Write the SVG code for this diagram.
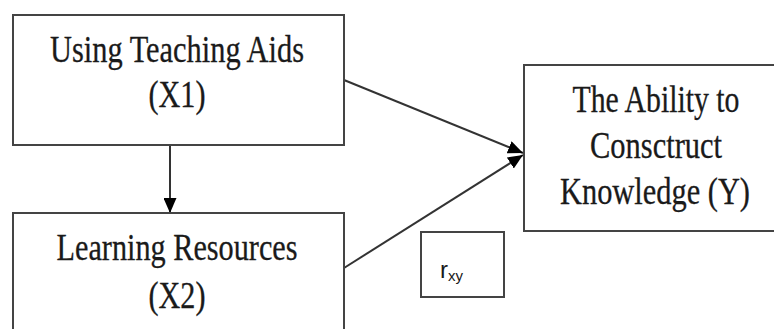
<svg xmlns="http://www.w3.org/2000/svg" width="774" height="329" viewBox="0 0 774 329">
<style>
.box{fill:#fff;stroke:#444;stroke-width:2}
.t{font-family:"Liberation Serif","Times New Roman",serif;font-size:37px;fill:#1a1a1a;stroke:#1a1a1a;stroke-width:0.3;text-anchor:middle}
.c{stroke:#333;stroke-width:2;fill:none}
.s{font-family:"Liberation Sans",Arial,sans-serif;fill:#1a1a1a}
</style>
<defs>
<marker id="ah" markerWidth="15" markerHeight="13" refX="15" refY="6.5" orient="auto" markerUnits="userSpaceOnUse">
<path d="M0,0 L15,6.5 L0,13 Z" fill="#000"/>
</marker>
</defs>
<rect width="774" height="329" fill="#fff"/>
<g id="connectors">
<line class="c" x1="170" y1="145" x2="170" y2="213" marker-end="url(#ah)"/>
<line class="c" x1="344" y1="80" x2="523" y2="153" marker-end="url(#ah)"/>
<line class="c" x1="344" y1="268" x2="523" y2="155" marker-end="url(#ah)"/>
</g>
<g id="x1">
<rect class="box" x="13" y="15" width="331" height="130"/>
<text class="t" x="177" y="62" textLength="254" lengthAdjust="spacingAndGlyphs">Using Teaching Aids</text>
<text class="t" x="177" y="107" textLength="57" lengthAdjust="spacingAndGlyphs">(X1)</text>
</g>
<g id="x2">
<rect class="box" x="13" y="213" width="331" height="130"/>
<text class="t" x="177" y="260" textLength="241" lengthAdjust="spacingAndGlyphs">Learning Resources</text>
<text class="t" x="177" y="308" textLength="57" lengthAdjust="spacingAndGlyphs">(X2)</text>
</g>
<g id="y">
<rect class="box" x="524" y="65" width="260" height="166"/>
<text class="t" x="656" y="112" textLength="167" lengthAdjust="spacingAndGlyphs">The Ability to</text>
<text class="t" x="656" y="158" textLength="132" lengthAdjust="spacingAndGlyphs">Consctruct</text>
<text class="t" x="655" y="204" textLength="190" lengthAdjust="spacingAndGlyphs">Knowledge (Y)</text>
</g>
<g id="rxy">
<rect class="box" x="421" y="232" width="83" height="65"/>
<text class="s" x="440" y="278" font-size="24">r<tspan font-size="15" dy="3">xy</tspan></text>
</g>
</svg>
